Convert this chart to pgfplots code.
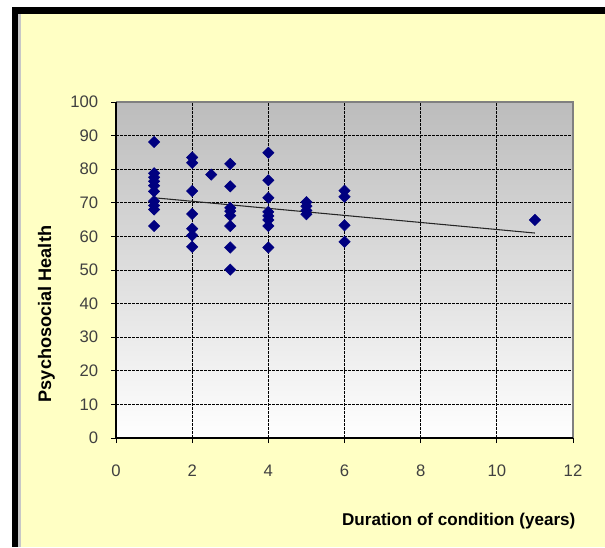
\documentclass[border=0pt]{standalone}
\usepackage{pgfplots}
\pgfplotsset{compat=1.18}
\usepackage{fontspec}
\setmainfont{Liberation Sans}
\definecolor{bgyellow}{RGB}{255,255,196}
\definecolor{markblue}{RGB}{0,0,128}
\definecolor{plotgray}{RGB}{188,188,188}
\begin{document}
\begin{tikzpicture}
\useasboundingbox (0pt,0pt) rectangle (453.75pt,410.25pt);
\fill[white] (0pt,0pt) rectangle (453.75pt,410.25pt);
\fill[black] (9pt,0pt) rectangle (453.75pt,405pt);
\fill[bgyellow] (13.5pt,0pt) rectangle (453.75pt,400pt);
\fill[black!22] (13.5pt,0pt) rectangle (15.75pt,400pt);
\begin{axis}[
  at={(87pt,81.75pt)}, anchor=south west,
  scale only axis, width=342.75pt, height=252pt,
  xmin=0, xmax=12, ymin=0, ymax=100,
  xtick={0,2,...,12}, ytick={0,10,...,100},
  xtick pos=left, ytick pos=left,
  tick align=outside, major tick length=3.75pt,
  tick style={black, line width=0.75pt},
  axis line style={draw=none},
  axis background/.style={shade, top color=plotgray, bottom color=white},
  grid=major,
  major grid style={black, line width=0.75pt, dash pattern=on 2pt off 1pt},
  /pgf/number format/assume math mode=true,
  tick label style={font=\fontsize{12.5}{14}\selectfont, text=black!75},
  yticklabel style={inner sep=0pt, xshift=-9.5pt},
  xticklabel style={inner sep=0pt, yshift=-16.5pt},
  xlabel={Duration of condition (years)},
  ylabel={Psychosocial Health},
  xlabel style={at={(axis description cs:0.750,-0.247)}, anchor=center, font=\fontsize{12.8}{15}\selectfont\bfseries},
  ylabel style={at={(axis description cs:-0.152,0.369)}, anchor=center, font=\fontsize{13.6}{15}\selectfont\bfseries},
  clip=false,
]
\addplot[black!85, line width=0.8pt] coordinates {(1,71.5) (11,61.0)};
\addplot[only marks, mark=square*, mark size=3pt,
  mark options={rotate=45, fill=markblue, draw=markblue}] coordinates {
  (1,88.1) (1,78.8) (1,77.6) (1,76.4) (1,75.1) (1,73.4) (1,70.5) (1,69.2) (1,68.0) (1,63.1)
  (2,83.5) (2,81.9) (2,73.5) (2,66.7) (2,62.3) (2,60.3) (2,56.9)
  (2.5,78.4)
  (3,81.6) (3,74.9) (3,68.5) (3,67.5) (3,66.2) (3,63.1) (3,56.7) (3,50.1)
  (4,84.9) (4,76.7) (4,71.5) (4,67.3) (4,66.1) (4,64.9) (4,63.1) (4,56.7)
  (5,70.2) (5,69.0) (5,67.7) (5,66.6)
  (6,73.6) (6,71.8) (6,63.3) (6,58.4)
  (11,64.9)
};
\draw[black!50, line width=0.9pt] (axis cs:0,100) -- (axis cs:12,100) -- (axis cs:12,0);
\draw[black, line width=0.9pt] (axis cs:0,100) -- (axis cs:0,0) -- (axis cs:12,0);
\end{axis}
\end{tikzpicture}
\end{document}
